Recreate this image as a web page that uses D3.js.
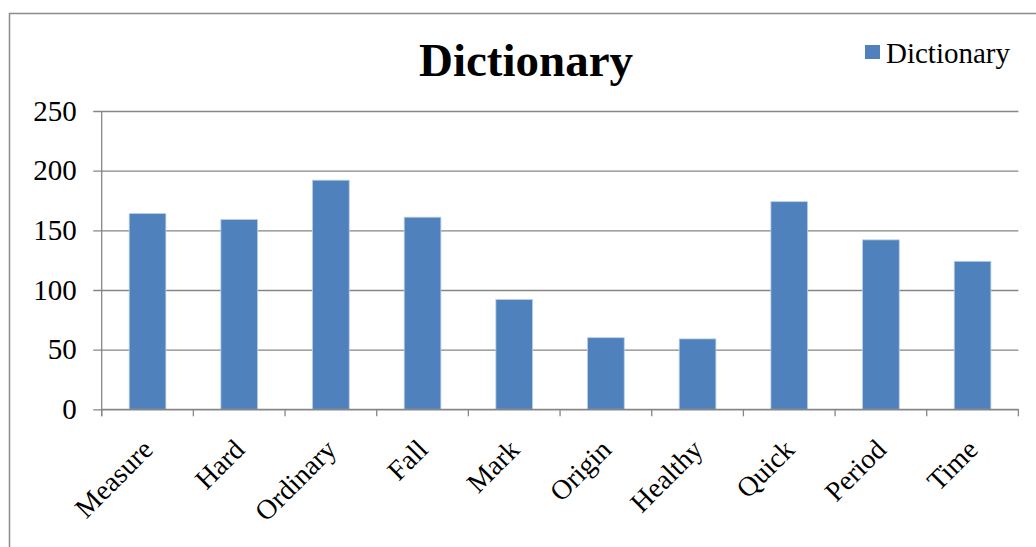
<!DOCTYPE html>
<html>
<head>
<meta charset="utf-8">
<script src="https://cdn.jsdelivr.net/npm/d3@7"></script>
<style>
  html, body { margin: 0; padding: 0; background: #fff; }
  svg { display: block; font-family: "Liberation Serif", "Times New Roman", serif; }
</style>
</head>
<body>
<svg id="chart" width="1036" height="547"></svg>
<script>
// Word counts per dictionary entry
const categories = ["Measure", "Hard", "Ordinary", "Fall", "Mark", "Origin", "Healthy", "Quick", "Period", "Time"];
const values = [164, 159, 192, 161, 92, 60, 59, 174, 142, 124];
const yTicks = [0, 50, 100, 150, 200, 250];
const seriesName = "Dictionary";

const svg = d3.select("#chart");
const W = 1036, H = 547;
const plot = { left: 101.7, right: 1018.4, top: 111, bottom: 409.3 };
const gridColor = "#868686";
const barColor = "#4F81BD";

svg.append("rect").attr("width", W).attr("height", H).attr("fill", "#fff");

// outer chart frame
svg.append("rect")
  .attr("x", 9.5).attr("y", 13.5)
  .attr("width", 1040).attr("height", 560)
  .attr("fill", "none").attr("stroke", "#8c8c8c").attr("stroke-width", 1.5);

const x = d3.scaleBand()
  .domain(categories)
  .range([plot.left, plot.right])
  .paddingInner(0.6)
  .paddingOuter(0.3);

const y = d3.scaleLinear().domain([0, 250]).range([plot.bottom, plot.top]);

// horizontal gridlines + y tick labels
const yAxis = d3.axisLeft(y)
  .tickValues(yTicks)
  .tickSize(-(plot.right - plot.left))
  .tickPadding(25)
  .tickFormat(d3.format("d"));

const gy = svg.append("g")
  .attr("transform", `translate(${plot.left},0)`)
  .call(yAxis);
gy.select(".domain").remove();
gy.selectAll(".tick line")
  .attr("x1", -8.5)
  .attr("stroke", gridColor).attr("stroke-width", 1.3);
gy.selectAll(".tick text")
  .attr("font-size", 29).attr("fill", "#000")
  .attr("font-family", "Liberation Serif, Times New Roman, serif");

// vertical axis line
svg.append("line")
  .attr("x1", plot.left).attr("x2", plot.left)
  .attr("y1", plot.top).attr("y2", plot.bottom + 7)
  .attr("stroke", gridColor).attr("stroke-width", 1.3);

// bars
svg.append("g").selectAll("rect")
  .data(categories.map((c, i) => ({ c, v: values[i] })))
  .join("rect")
  .attr("x", d => x(d.c))
  .attr("width", x.bandwidth())
  .attr("y", d => y(d.v))
  .attr("height", d => y(0) - y(d.v))
  .attr("fill", barColor)
  .attr("stroke", "#b9cde5").attr("stroke-width", 0.8);

// x axis line with tick marks at category boundaries
const step = x.step();
const boundaries = d3.range(categories.length + 1).map(i => plot.left + i * step);
svg.append("line")
  .attr("x1", plot.left).attr("x2", plot.right)
  .attr("y1", plot.bottom).attr("y2", plot.bottom)
  .attr("stroke", gridColor).attr("stroke-width", 1.3);
svg.append("g").selectAll("line")
  .data(boundaries)
  .join("line")
  .attr("x1", d => d).attr("x2", d => d)
  .attr("y1", plot.bottom).attr("y2", plot.bottom + 7)
  .attr("stroke", gridColor).attr("stroke-width", 1.3);

// rotated category labels
svg.append("g").selectAll("text")
  .data(categories)
  .join("text")
  .attr("transform", d => `translate(${x(d) + x.bandwidth() / 2},${plot.bottom + 35}) rotate(-45)`)
  .attr("text-anchor", "end")
  .attr("dy", "0.35em")
  .attr("font-size", 28)
  .attr("fill", "#000")
  .text(d => d);

// title
svg.append("text")
  .attr("x", 526).attr("y", 76)
  .attr("text-anchor", "middle")
  .attr("font-size", 47).attr("font-weight", "bold")
  .attr("fill", "#000")
  .text(seriesName);

// legend
const lg = svg.append("g");
lg.append("rect")
  .attr("x", 865).attr("y", 45).attr("width", 15).attr("height", 14)
  .attr("fill", barColor);
lg.append("text")
  .attr("x", 886).attr("y", 63)
  .attr("font-size", 29).attr("fill", "#000")
  .text(seriesName);
</script>
</body>
</html>
